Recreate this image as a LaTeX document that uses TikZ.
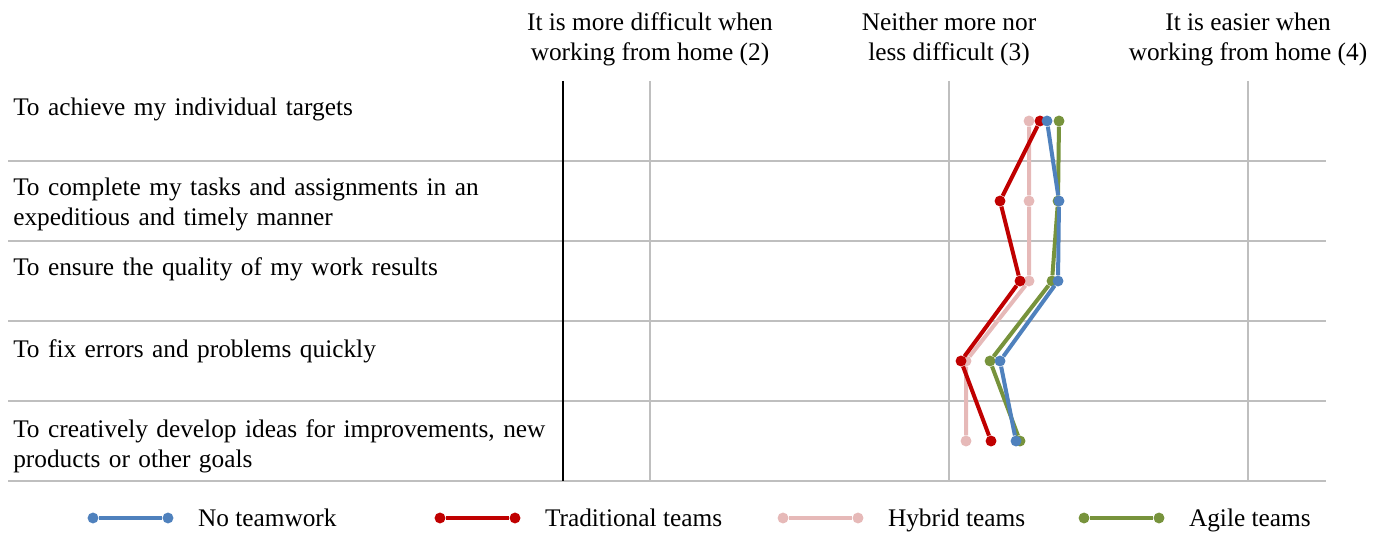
\documentclass[tikz,border=0pt]{standalone}
\usepackage{fontspec}
\setmainfont{Liberation Serif}
\usetikzlibrary{positioning}
\definecolor{gridgray}{RGB}{191,191,191}
\definecolor{noteam}{RGB}{79,129,189}
\definecolor{tradteam}{RGB}{192,0,0}
\definecolor{hybteam}{RGB}{230,185,184}
\definecolor{agileteam}{RGB}{119,147,60}

\begin{document}
\begin{tikzpicture}[x=0.75pt,y=-0.75pt,
  every node/.style={font=\fontsize{19}{22.5}\selectfont,inner sep=0pt},
  grid/.style={draw=gridgray,line width=0.9pt},
  series/.style={draw=#1,line width=3pt},
  datapt/.style={circle,fill=#1,minimum size=8.2pt},
  rowlabel/.style={anchor=base west,align=left,text width=420pt},
  header/.style={align=center},
  legtext/.style={anchor=west,text height=14.5pt,text depth=2.5pt}]
\useasboundingbox (0,0) rectangle (1387,534);

% header
\node[header] (h2) at (650,39) {It is more difficult when\\working from home (2)};
\node[header] (h3) at (949,39) {Neither more nor\\less difficult (3)};
\node[header] (h4) at (1248,39) {It is easier when\\working from home (4)};

% grid
\draw[grid] (8,161) -- (1326,161);
\draw[grid] (8,241) -- (1326,241);
\draw[grid] (8,321) -- (1326,321);
\draw[grid] (8,401) -- (1326,401);
\draw[grid] (8,481) -- (1326,481);
\draw[grid] (650,81) -- (650,481);
\draw[grid] (949,81) -- (949,481);
\draw[grid] (1248,81) -- (1248,481);
\draw[line width=1.6pt] (563,81) -- (563,481);

% rows
\node[rowlabel] (q1) at (13,116) {To achieve my individual targets};
\node[rowlabel] (q2) at (13,196) {To complete my tasks and assignments in an\\expeditious and timely manner};
\node[rowlabel] (q3) at (13,276) {To ensure the quality of my work results};
\node[rowlabel] (q4) at (13,357) {To fix errors and problems quickly};
\node[rowlabel] (q5) at (13,437) {To creatively develop ideas for improvements, new\\products or other goals};

% hybrid teams
\node[datapt=hybteam] (h1) at (1029,121) {};
\node[datapt=hybteam] (h2) at (1029,201) {};
\node[datapt=hybteam] (h3) at (1029,281) {};
\node[datapt=hybteam] (h4) at (966,361) {};
\node[datapt=hybteam] (h5) at (966,441) {};
\draw[series=hybteam] (h1) -- (h2) -- (h3) -- (h4) -- (h5);

% agile teams
\node[datapt=agileteam] (a1) at (1059,121) {};
\node[datapt=agileteam] (a2) at (1058,201) {};
\node[datapt=agileteam] (a3) at (1052,281) {};
\node[datapt=agileteam] (a4) at (990,361) {};
\node[datapt=agileteam] (a5) at (1020,441) {};
\draw[series=agileteam] (a1) -- (a2) -- (a3) -- (a4) -- (a5);

% traditional teams
\node[datapt=tradteam] (r1) at (1040,121) {};
\node[datapt=tradteam] (r2) at (1000,201) {};
\node[datapt=tradteam] (r3) at (1020,281) {};
\node[datapt=tradteam] (r4) at (961,361) {};
\node[datapt=tradteam] (r5) at (991,441) {};
\draw[series=tradteam] (r1) -- (r2) -- (r3) -- (r4) -- (r5);

% no teamwork
\node[datapt=noteam] (b1) at (1047,121) {};
\node[datapt=noteam] (b2) at (1059,201) {};
\node[datapt=noteam] (b3) at (1058,281) {};
\node[datapt=noteam] (b4) at (1000,361) {};
\node[datapt=noteam] (b5) at (1016,441) {};
\draw[series=noteam] (b1) -- (b2) -- (b3) -- (b4) -- (b5);

% legend
\node[datapt=noteam] (lb1) at (93,518) {};
\node[datapt=noteam] (lb2) at (168,518) {};
\draw[series=noteam] (lb1) -- (lb2);
\node[legtext,right=18pt of lb2] (lbt) {No teamwork};
\node[datapt=tradteam] (lr1) at (440,518) {};
\node[datapt=tradteam] (lr2) at (515,518) {};
\draw[series=tradteam] (lr1) -- (lr2);
\node[legtext,right=18pt of lr2] (lrt) {Traditional teams};
\node[datapt=hybteam] (lh1) at (783,518) {};
\node[datapt=hybteam] (lh2) at (858,518) {};
\draw[series=hybteam] (lh1) -- (lh2);
\node[legtext,right=18pt of lh2] (lht) {Hybrid teams};
\node[datapt=agileteam] (la1) at (1084,518) {};
\node[datapt=agileteam] (la2) at (1159,518) {};
\draw[series=agileteam] (la1) -- (la2);
\node[legtext,right=18pt of la2] (lat) {Agile teams};
\end{tikzpicture}
\end{document}
